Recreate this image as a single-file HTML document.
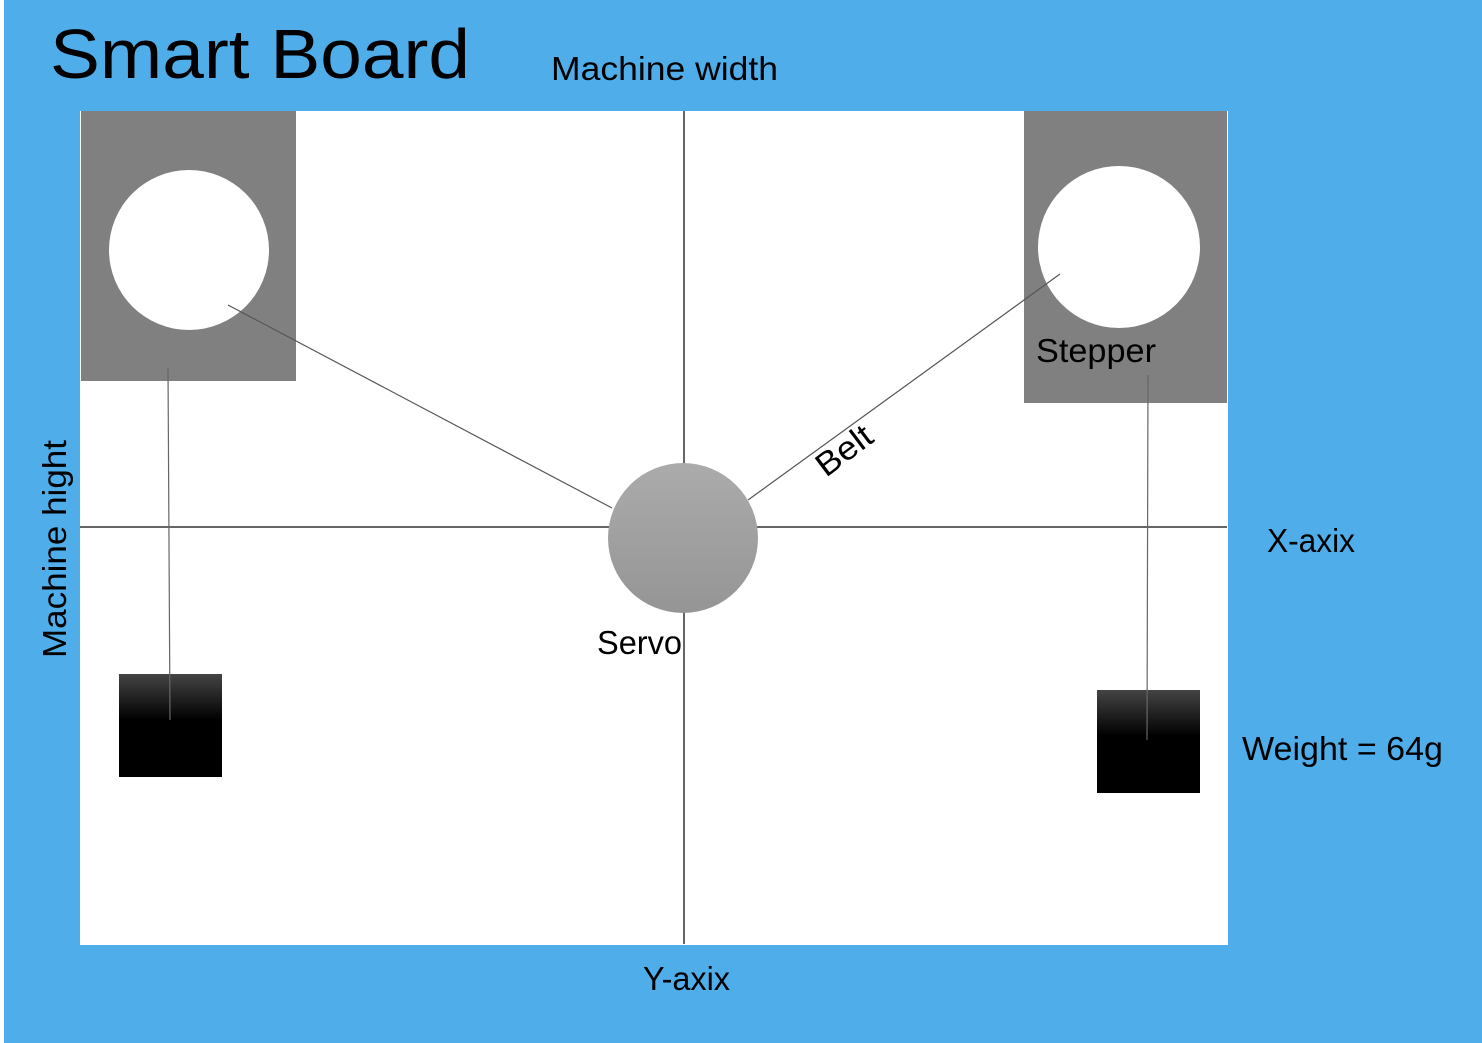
<!DOCTYPE html>
<html><head><meta charset="utf-8"><style>
html,body{margin:0;padding:0;background:#fff;}
svg{display:block;}
text{font-family:"Liberation Sans",sans-serif;fill:#000;}
</style></head><body>
<svg width="1482" height="1043" viewBox="0 0 1482 1043" xmlns="http://www.w3.org/2000/svg">
<defs>
<linearGradient id="sg" x1="0" y1="0" x2="0" y2="1"><stop offset="0" stop-color="#ababab"/><stop offset="1" stop-color="#959595"/></linearGradient>
<linearGradient id="bg" x1="0" y1="0" x2="0" y2="1"><stop offset="0" stop-color="#444"/><stop offset="0.45" stop-color="#000"/><stop offset="1" stop-color="#000"/></linearGradient>
</defs>
<rect x="4" y="0" width="1478" height="1043" fill="#4FADEA"/>
<rect x="80" y="111" width="1148" height="834" fill="#fff"/>
<rect x="81" y="111" width="215" height="270" fill="#808080"/>
<rect x="1024" y="111" width="203" height="292" fill="#808080"/>
<circle cx="189" cy="250" r="80" fill="#fff"/>
<circle cx="1119" cy="247" r="81" fill="#fff"/>
<line x1="80" y1="527" x2="1227" y2="527" stroke="#333" stroke-width="1.5"/>
<line x1="684" y1="111" x2="684" y2="944" stroke="#333" stroke-width="1.5"/>
<line x1="228" y1="305" x2="612" y2="508" stroke="#555" stroke-width="1.2"/>
<line x1="1060" y1="274" x2="748" y2="500" stroke="#555" stroke-width="1.2"/>
<circle cx="683" cy="538" r="75" fill="url(#sg)"/>
<rect x="119" y="674" width="103" height="103" fill="url(#bg)"/>
<rect x="1097" y="690" width="103" height="103" fill="url(#bg)"/>
<line x1="168" y1="368" x2="170" y2="720" stroke="#666" stroke-width="1.2"/>
<line x1="1148" y1="375" x2="1147" y2="740" stroke="#666" stroke-width="1.2"/>
<text x="50" y="78" font-size="70" textLength="420" lengthAdjust="spacingAndGlyphs">Smart Board</text>
<text x="551" y="80" font-size="33" textLength="227" lengthAdjust="spacingAndGlyphs">Machine width</text>
<text x="1036" y="362" font-size="33" textLength="120" lengthAdjust="spacingAndGlyphs">Stepper</text>
<text x="597" y="654" font-size="33" textLength="85" lengthAdjust="spacingAndGlyphs">Servo</text>
<text x="1267" y="552" font-size="33" textLength="88" lengthAdjust="spacingAndGlyphs">X-axix</text>
<text x="1242" y="760" font-size="33" textLength="201" lengthAdjust="spacingAndGlyphs">Weight = 64g</text>
<text x="643" y="990" font-size="33" textLength="87" lengthAdjust="spacingAndGlyphs">Y-axix</text>
<text transform="translate(66,658) rotate(-90)" font-size="33" textLength="218" lengthAdjust="spacingAndGlyphs">Machine hight</text>
<text transform="translate(826,478) rotate(-37)" font-size="33" textLength="62" lengthAdjust="spacingAndGlyphs">Belt</text>
</svg>
</body></html>
